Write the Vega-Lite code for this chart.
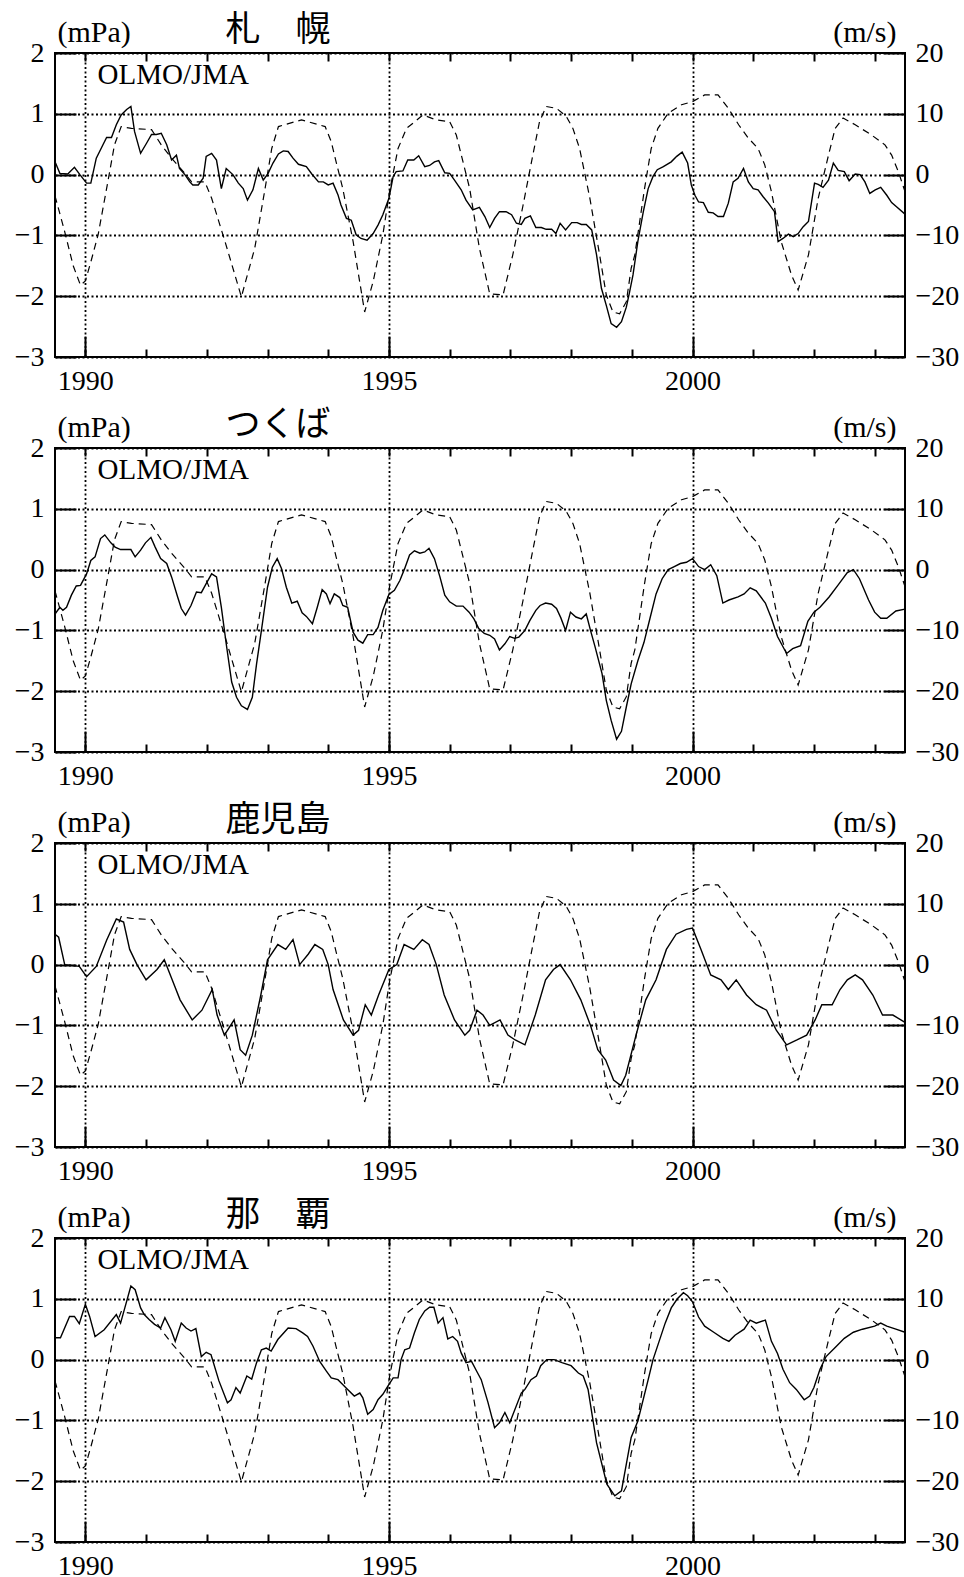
{
"$schema": "https://vega.github.io/schema/vega-lite/v6.json",
"background": "white",
"padding": {"left": 13, "top": 11, "right": 5, "bottom": 5},
"spacing": 91,
"bounds": "flush",
"datasets": {
"qbo": [
{"t":1989.5,"u":-3.5},{"t":1989.65,"u":-9},{"t":1989.8,"u":-15},{"t":1989.92,"u":-18.2},{"t":1990.0,"u":-17.5},{"t":1990.1,"u":-14},{"t":1990.21,"u":-9.9},{"t":1990.37,"u":-1.2},{"t":1990.48,"u":4.9},{"t":1990.59,"u":7.9},{"t":1990.76,"u":7.6},{"t":1991.09,"u":7.4},{"t":1991.25,"u":4.9},{"t":1991.42,"u":2.7},{"t":1991.64,"u":0.2},{"t":1991.75,"u":-1.2},{"t":1991.97,"u":-1.2},{"t":1992.08,"u":-3.9},{"t":1992.3,"u":-11},{"t":1992.57,"u":-20.1},{"t":1992.79,"u":-12.1},{"t":1992.96,"u":-2.3},{"t":1993.07,"u":4.3},{"t":1993.18,"u":7.9},{"t":1993.56,"u":9.0},{"t":1993.95,"u":7.9},{"t":1994.05,"u":5.4},{"t":1994.13,"u":2.1},{"t":1994.24,"u":-2.3},{"t":1994.41,"u":-11},{"t":1994.6,"u":-22.6},{"t":1994.74,"u":-17.6},{"t":1994.9,"u":-9.9},{"t":1995.01,"u":-2.8},{"t":1995.15,"u":4.3},{"t":1995.29,"u":7.6},{"t":1995.56,"u":9.8},{"t":1995.78,"u":9.0},{"t":1996.0,"u":8.7},{"t":1996.11,"u":6.5},{"t":1996.33,"u":-2.3},{"t":1996.49,"u":-12.1},{"t":1996.66,"u":-19.6},{"t":1996.88,"u":-19.8},{"t":1997.04,"u":-13.2},{"t":1997.21,"u":-5.0},{"t":1997.37,"u":3.2},{"t":1997.48,"u":8.7},{"t":1997.59,"u":11.2},{"t":1997.76,"u":10.9},{"t":1997.92,"u":9.6},{"t":1998.03,"u":7.6},{"t":1998.14,"u":4.3},{"t":1998.31,"u":-3.9},{"t":1998.47,"u":-13.2},{"t":1998.58,"u":-19.8},{"t":1998.69,"u":-22.6},{"t":1998.8,"u":-22.9},{"t":1998.91,"u":-20.9},{"t":1998.99,"u":-15.4},{"t":1999.05,"u":-13.2},{"t":1999.21,"u":-2.3},{"t":1999.32,"u":4.3},{"t":1999.43,"u":7.6},{"t":1999.6,"u":10.1},{"t":1999.82,"u":11.5},{"t":2000.0,"u":12.0},{"t":2000.2,"u":13.1},{"t":2000.42,"u":13.1},{"t":2000.59,"u":10.9},{"t":2000.76,"u":8.2},{"t":2000.92,"u":6.0},{"t":2001.08,"u":4.3},{"t":2001.19,"u":1.6},{"t":2001.3,"u":-2.8},{"t":2001.46,"u":-11},{"t":2001.63,"u":-16.5},{"t":2001.74,"u":-19.0},{"t":2001.91,"u":-13.2},{"t":2002.07,"u":-3.9},{"t":2002.24,"u":3.2},{"t":2002.35,"u":7.6},{"t":2002.48,"u":9.3},{"t":2002.68,"u":8.2},{"t":2002.95,"u":6.5},{"t":2003.17,"u":4.9},{"t":2003.28,"u":3.2},{"t":2003.39,"u":0.5},{"t":2003.5,"u":-2.8}
],
"sapporo": [
{"t":1989.5,"v":0.21},{"t":1989.58,"v":0.02},{"t":1989.71,"v":0.01},{"t":1989.82,"v":0.12},{"t":1989.91,"v":0.0},{"t":1990.02,"v":-0.14},{"t":1990.09,"v":-0.14},{"t":1990.18,"v":0.27},{"t":1990.29,"v":0.49},{"t":1990.35,"v":0.61},{"t":1990.43,"v":0.61},{"t":1990.51,"v":0.82},{"t":1990.59,"v":0.98},{"t":1990.68,"v":1.07},{"t":1990.75,"v":1.12},{"t":1990.81,"v":0.71},{"t":1990.91,"v":0.35},{"t":1991.01,"v":0.52},{"t":1991.09,"v":0.66},{"t":1991.17,"v":0.66},{"t":1991.25,"v":0.68},{"t":1991.34,"v":0.49},{"t":1991.42,"v":0.24},{"t":1991.5,"v":0.32},{"t":1991.55,"v":0.1},{"t":1991.64,"v":0.0},{"t":1991.72,"v":-0.12},{"t":1991.77,"v":-0.17},{"t":1991.86,"v":-0.17},{"t":1991.94,"v":-0.06},{"t":1991.99,"v":0.3},{"t":1992.08,"v":0.35},{"t":1992.16,"v":0.24},{"t":1992.24,"v":-0.23},{"t":1992.32,"v":0.1},{"t":1992.43,"v":0.0},{"t":1992.52,"v":-0.14},{"t":1992.6,"v":-0.23},{"t":1992.67,"v":-0.42},{"t":1992.76,"v":-0.25},{"t":1992.85,"v":0.1},{"t":1992.93,"v":-0.09},{"t":1993.01,"v":0.02},{"t":1993.09,"v":0.19},{"t":1993.18,"v":0.34},{"t":1993.26,"v":0.39},{"t":1993.34,"v":0.38},{"t":1993.42,"v":0.27},{"t":1993.51,"v":0.17},{"t":1993.64,"v":0.13},{"t":1993.73,"v":0.01},{"t":1993.84,"v":-0.12},{"t":1993.92,"v":-0.12},{"t":1994.0,"v":-0.17},{"t":1994.08,"v":-0.14},{"t":1994.16,"v":-0.33},{"t":1994.21,"v":-0.5},{"t":1994.3,"v":-0.72},{"t":1994.38,"v":-0.75},{"t":1994.46,"v":-0.99},{"t":1994.54,"v":-1.05},{"t":1994.64,"v":-1.08},{"t":1994.74,"v":-0.97},{"t":1994.82,"v":-0.83},{"t":1994.9,"v":-0.66},{"t":1995.0,"v":-0.39},{"t":1995.07,"v":-0.03},{"t":1995.12,"v":0.05},{"t":1995.23,"v":0.06},{"t":1995.31,"v":0.24},{"t":1995.41,"v":0.24},{"t":1995.49,"v":0.31},{"t":1995.59,"v":0.13},{"t":1995.67,"v":0.15},{"t":1995.75,"v":0.21},{"t":1995.82,"v":0.23},{"t":1995.92,"v":0.03},{"t":1996.0,"v":0.02},{"t":1996.08,"v":-0.09},{"t":1996.19,"v":-0.25},{"t":1996.27,"v":-0.42},{"t":1996.38,"v":-0.58},{"t":1996.49,"v":-0.54},{"t":1996.58,"v":-0.69},{"t":1996.66,"v":-0.87},{"t":1996.74,"v":-0.72},{"t":1996.82,"v":-0.61},{"t":1996.93,"v":-0.61},{"t":1997.02,"v":-0.66},{"t":1997.1,"v":-0.8},{"t":1997.18,"v":-0.82},{"t":1997.24,"v":-0.72},{"t":1997.33,"v":-0.68},{"t":1997.42,"v":-0.87},{"t":1997.51,"v":-0.87},{"t":1997.59,"v":-0.9},{"t":1997.68,"v":-0.9},{"t":1997.75,"v":-0.97},{"t":1997.82,"v":-0.8},{"t":1997.91,"v":-0.91},{"t":1998.01,"v":-0.79},{"t":1998.1,"v":-0.79},{"t":1998.17,"v":-0.82},{"t":1998.25,"v":-0.82},{"t":1998.34,"v":-0.91},{"t":1998.42,"v":-1.32},{"t":1998.5,"v":-1.87},{"t":1998.58,"v":-2.15},{"t":1998.66,"v":-2.45},{"t":1998.75,"v":-2.51},{"t":1998.83,"v":-2.42},{"t":1998.91,"v":-2.18},{"t":1998.96,"v":-1.95},{"t":1999.02,"v":-1.65},{"t":1999.1,"v":-1.1},{"t":1999.19,"v":-0.61},{"t":1999.27,"v":-0.23},{"t":1999.35,"v":-0.03},{"t":1999.42,"v":0.08},{"t":1999.52,"v":0.13},{"t":1999.65,"v":0.21},{"t":1999.74,"v":0.3},{"t":1999.83,"v":0.37},{"t":1999.92,"v":0.19},{"t":1999.98,"v":-0.17},{"t":2000.04,"v":-0.34},{"t":2000.1,"v":-0.45},{"t":2000.18,"v":-0.46},{"t":2000.26,"v":-0.62},{"t":2000.34,"v":-0.63},{"t":2000.42,"v":-0.69},{"t":2000.51,"v":-0.69},{"t":2000.59,"v":-0.47},{"t":2000.67,"v":-0.12},{"t":2000.75,"v":-0.06},{"t":2000.84,"v":0.1},{"t":2000.92,"v":-0.12},{"t":2001.0,"v":-0.23},{"t":2001.08,"v":-0.25},{"t":2001.16,"v":-0.36},{"t":2001.25,"v":-0.47},{"t":2001.35,"v":-0.61},{"t":2001.41,"v":-1.1},{"t":2001.49,"v":-1.05},{"t":2001.58,"v":-0.98},{"t":2001.66,"v":-1.02},{"t":2001.74,"v":-0.97},{"t":2001.82,"v":-0.86},{"t":2001.91,"v":-0.77},{"t":2002.01,"v":-0.14},{"t":2002.07,"v":-0.16},{"t":2002.15,"v":-0.21},{"t":2002.24,"v":-0.09},{"t":2002.32,"v":0.19},{"t":2002.4,"v":0.07},{"t":2002.5,"v":0.05},{"t":2002.58,"v":-0.1},{"t":2002.68,"v":0.01},{"t":2002.76,"v":0.0},{"t":2002.84,"v":-0.12},{"t":2002.92,"v":-0.31},{"t":2003.01,"v":-0.25},{"t":2003.1,"v":-0.21},{"t":2003.2,"v":-0.34},{"t":2003.28,"v":-0.46},{"t":2003.36,"v":-0.53},{"t":2003.5,"v":-0.65}
],
"tsukuba": [
{"t":1989.5,"v":-0.73},{"t":1989.58,"v":-0.62},{"t":1989.63,"v":-0.67},{"t":1989.69,"v":-0.62},{"t":1989.77,"v":-0.42},{"t":1989.85,"v":-0.27},{"t":1989.92,"v":-0.26},{"t":1990.02,"v":-0.07},{"t":1990.09,"v":0.15},{"t":1990.16,"v":0.21},{"t":1990.25,"v":0.51},{"t":1990.32,"v":0.57},{"t":1990.42,"v":0.44},{"t":1990.49,"v":0.37},{"t":1990.58,"v":0.33},{"t":1990.75,"v":0.33},{"t":1990.82,"v":0.21},{"t":1990.91,"v":0.32},{"t":1990.99,"v":0.44},{"t":1991.08,"v":0.53},{"t":1991.15,"v":0.37},{"t":1991.24,"v":0.18},{"t":1991.34,"v":0.1},{"t":1991.42,"v":-0.12},{"t":1991.52,"v":-0.45},{"t":1991.58,"v":-0.64},{"t":1991.65,"v":-0.75},{"t":1991.74,"v":-0.59},{"t":1991.83,"v":-0.37},{"t":1991.91,"v":-0.38},{"t":1991.99,"v":-0.23},{"t":1992.08,"v":-0.07},{"t":1992.16,"v":-0.12},{"t":1992.24,"v":-0.62},{"t":1992.32,"v":-1.22},{"t":1992.41,"v":-1.85},{"t":1992.49,"v":-2.1},{"t":1992.57,"v":-2.24},{"t":1992.67,"v":-2.3},{"t":1992.75,"v":-2.1},{"t":1992.82,"v":-1.55},{"t":1992.9,"v":-1.0},{"t":1993.0,"v":-0.29},{"t":1993.08,"v":0.04},{"t":1993.16,"v":0.18},{"t":1993.23,"v":0.02},{"t":1993.31,"v":-0.29},{"t":1993.4,"v":-0.55},{"t":1993.49,"v":-0.52},{"t":1993.57,"v":-0.71},{"t":1993.64,"v":-0.77},{"t":1993.74,"v":-0.89},{"t":1993.82,"v":-0.62},{"t":1993.9,"v":-0.33},{"t":1993.97,"v":-0.4},{"t":1994.03,"v":-0.56},{"t":1994.1,"v":-0.4},{"t":1994.19,"v":-0.46},{"t":1994.24,"v":-0.59},{"t":1994.32,"v":-0.62},{"t":1994.41,"v":-1.03},{"t":1994.49,"v":-1.16},{"t":1994.57,"v":-1.21},{"t":1994.65,"v":-1.07},{"t":1994.74,"v":-1.07},{"t":1994.82,"v":-0.95},{"t":1994.9,"v":-0.67},{"t":1995.0,"v":-0.41},{"t":1995.09,"v":-0.34},{"t":1995.18,"v":-0.18},{"t":1995.26,"v":0.02},{"t":1995.34,"v":0.24},{"t":1995.42,"v":0.31},{"t":1995.51,"v":0.27},{"t":1995.59,"v":0.29},{"t":1995.66,"v":0.35},{"t":1995.75,"v":0.18},{"t":1995.84,"v":-0.12},{"t":1995.92,"v":-0.42},{"t":1996.0,"v":-0.53},{"t":1996.11,"v":-0.6},{"t":1996.22,"v":-0.6},{"t":1996.32,"v":-0.7},{"t":1996.4,"v":-0.81},{"t":1996.48,"v":-0.97},{"t":1996.57,"v":-1.05},{"t":1996.66,"v":-1.08},{"t":1996.74,"v":-1.14},{"t":1996.82,"v":-1.32},{"t":1996.91,"v":-1.22},{"t":1996.99,"v":-1.1},{"t":1997.07,"v":-1.13},{"t":1997.14,"v":-1.11},{"t":1997.24,"v":-1.0},{"t":1997.32,"v":-0.84},{"t":1997.42,"v":-0.67},{"t":1997.49,"v":-0.59},{"t":1997.58,"v":-0.55},{"t":1997.68,"v":-0.57},{"t":1997.76,"v":-0.64},{"t":1997.83,"v":-0.79},{"t":1997.91,"v":-1.0},{"t":1997.99,"v":-0.7},{"t":1998.08,"v":-0.78},{"t":1998.17,"v":-0.81},{"t":1998.25,"v":-0.73},{"t":1998.32,"v":-1.0},{"t":1998.39,"v":-1.25},{"t":1998.45,"v":-1.48},{"t":1998.51,"v":-1.71},{"t":1998.58,"v":-2.15},{"t":1998.66,"v":-2.48},{"t":1998.75,"v":-2.79},{"t":1998.83,"v":-2.66},{"t":1998.91,"v":-2.26},{"t":1998.99,"v":-1.88},{"t":1999.1,"v":-1.5},{"t":1999.2,"v":-1.2},{"t":1999.3,"v":-0.8},{"t":1999.4,"v":-0.4},{"t":1999.5,"v":-0.15},{"t":1999.6,"v":0.0},{"t":1999.7,"v":0.05},{"t":1999.8,"v":0.1},{"t":1999.9,"v":0.12},{"t":2000.0,"v":0.18},{"t":2000.1,"v":0.05},{"t":2000.2,"v":0.0},{"t":2000.3,"v":0.08},{"t":2000.4,"v":-0.1},{"t":2000.5,"v":-0.55},{"t":2000.6,"v":-0.5},{"t":2000.75,"v":-0.45},{"t":2000.85,"v":-0.4},{"t":2000.95,"v":-0.3},{"t":2001.05,"v":-0.35},{"t":2001.2,"v":-0.55},{"t":2001.3,"v":-0.8},{"t":2001.4,"v":-1.1},{"t":2001.55,"v":-1.38},{"t":2001.65,"v":-1.3},{"t":2001.78,"v":-1.25},{"t":2001.9,"v":-0.85},{"t":2002.0,"v":-0.7},{"t":2002.1,"v":-0.62},{"t":2002.25,"v":-0.45},{"t":2002.4,"v":-0.25},{"t":2002.55,"v":-0.05},{"t":2002.65,"v":0.0},{"t":2002.75,"v":-0.15},{"t":2002.9,"v":-0.5},{"t":2003.0,"v":-0.7},{"t":2003.1,"v":-0.8},{"t":2003.2,"v":-0.8},{"t":2003.35,"v":-0.68},{"t":2003.5,"v":-0.65}
],
"kagoshima": [
{"t":1989.5,"v":0.5},{"t":1989.56,"v":0.45},{"t":1989.66,"v":0.0},{"t":1989.9,"v":-0.03},{"t":1990.02,"v":-0.2},{"t":1990.18,"v":-0.03},{"t":1990.35,"v":0.4},{"t":1990.51,"v":0.75},{"t":1990.63,"v":0.7},{"t":1990.73,"v":0.25},{"t":1990.85,"v":0.0},{"t":1991.0,"v":-0.25},{"t":1991.18,"v":-0.08},{"t":1991.3,"v":0.08},{"t":1991.43,"v":-0.25},{"t":1991.56,"v":-0.58},{"t":1991.76,"v":-0.91},{"t":1991.92,"v":-0.75},{"t":1992.09,"v":-0.41},{"t":1992.17,"v":-0.83},{"t":1992.29,"v":-1.16},{"t":1992.45,"v":-0.91},{"t":1992.55,"v":-1.4},{"t":1992.64,"v":-1.49},{"t":1992.75,"v":-1.16},{"t":1992.89,"v":-0.5},{"t":1993.0,"v":0.08},{"t":1993.17,"v":0.33},{"t":1993.3,"v":0.25},{"t":1993.42,"v":0.41},{"t":1993.53,"v":0.0},{"t":1993.67,"v":0.17},{"t":1993.78,"v":0.33},{"t":1993.91,"v":0.25},{"t":1994.0,"v":0.0},{"t":1994.08,"v":-0.41},{"t":1994.25,"v":-0.91},{"t":1994.41,"v":-1.16},{"t":1994.5,"v":-1.08},{"t":1994.61,"v":-0.66},{"t":1994.71,"v":-0.83},{"t":1994.83,"v":-0.5},{"t":1995.0,"v":-0.08},{"t":1995.13,"v":0.0},{"t":1995.25,"v":0.33},{"t":1995.41,"v":0.25},{"t":1995.55,"v":0.41},{"t":1995.66,"v":0.33},{"t":1995.78,"v":0.0},{"t":1995.91,"v":-0.5},{"t":1996.08,"v":-0.91},{"t":1996.25,"v":-1.16},{"t":1996.33,"v":-1.08},{"t":1996.45,"v":-0.75},{"t":1996.55,"v":-0.83},{"t":1996.66,"v":-1.0},{"t":1996.83,"v":-0.91},{"t":1996.96,"v":-1.16},{"t":1997.08,"v":-1.24},{"t":1997.24,"v":-1.32},{"t":1997.41,"v":-0.83},{"t":1997.58,"v":-0.25},{"t":1997.71,"v":-0.08},{"t":1997.82,"v":0.0},{"t":1997.99,"v":-0.25},{"t":1998.16,"v":-0.58},{"t":1998.32,"v":-1.0},{"t":1998.44,"v":-1.4},{"t":1998.57,"v":-1.57},{"t":1998.7,"v":-1.9},{"t":1998.82,"v":-1.99},{"t":1998.9,"v":-1.82},{"t":1999.07,"v":-1.16},{"t":1999.23,"v":-0.58},{"t":1999.4,"v":-0.25},{"t":1999.57,"v":0.25},{"t":1999.73,"v":0.5},{"t":1999.9,"v":0.58},{"t":2000.0,"v":0.6},{"t":2000.14,"v":0.25},{"t":2000.3,"v":-0.17},{"t":2000.47,"v":-0.25},{"t":2000.59,"v":-0.41},{"t":2000.72,"v":-0.25},{"t":2000.89,"v":-0.5},{"t":2001.05,"v":-0.66},{"t":2001.22,"v":-0.75},{"t":2001.38,"v":-1.08},{"t":2001.55,"v":-1.32},{"t":2001.72,"v":-1.24},{"t":2001.88,"v":-1.16},{"t":2002.02,"v":-0.91},{"t":2002.13,"v":-0.66},{"t":2002.3,"v":-0.66},{"t":2002.43,"v":-0.41},{"t":2002.55,"v":-0.25},{"t":2002.68,"v":-0.17},{"t":2002.8,"v":-0.25},{"t":2002.97,"v":-0.5},{"t":2003.13,"v":-0.83},{"t":2003.3,"v":-0.83},{"t":2003.5,"v":-0.95}
],
"naha": [
{"t":1989.5,"v":0.36},{"t":1989.59,"v":0.36},{"t":1989.74,"v":0.71},{"t":1989.82,"v":0.71},{"t":1989.9,"v":0.59},{"t":1990.0,"v":0.91},{"t":1990.07,"v":0.71},{"t":1990.16,"v":0.38},{"t":1990.31,"v":0.49},{"t":1990.51,"v":0.74},{"t":1990.58,"v":0.6},{"t":1990.65,"v":0.85},{"t":1990.75,"v":1.21},{"t":1990.82,"v":1.15},{"t":1990.91,"v":0.85},{"t":1990.97,"v":0.74},{"t":1991.05,"v":0.66},{"t":1991.14,"v":0.58},{"t":1991.24,"v":0.52},{"t":1991.31,"v":0.69},{"t":1991.41,"v":0.49},{"t":1991.48,"v":0.3},{"t":1991.58,"v":0.6},{"t":1991.66,"v":0.52},{"t":1991.74,"v":0.47},{"t":1991.82,"v":0.51},{"t":1991.91,"v":0.05},{"t":1991.99,"v":0.12},{"t":1992.07,"v":0.08},{"t":1992.2,"v":-0.35},{"t":1992.34,"v":-0.71},{"t":1992.4,"v":-0.66},{"t":1992.48,"v":-0.46},{"t":1992.55,"v":-0.55},{"t":1992.66,"v":-0.27},{"t":1992.74,"v":-0.32},{"t":1992.82,"v":-0.05},{"t":1992.9,"v":0.16},{"t":1992.98,"v":0.19},{"t":1993.06,"v":0.14},{"t":1993.17,"v":0.33},{"t":1993.34,"v":0.52},{"t":1993.47,"v":0.51},{"t":1993.58,"v":0.44},{"t":1993.66,"v":0.38},{"t":1993.75,"v":0.22},{"t":1993.86,"v":-0.03},{"t":1993.97,"v":-0.19},{"t":1994.05,"v":-0.3},{"t":1994.16,"v":-0.33},{"t":1994.21,"v":-0.38},{"t":1994.32,"v":-0.49},{"t":1994.43,"v":-0.6},{"t":1994.52,"v":-0.55},{"t":1994.57,"v":-0.63},{"t":1994.65,"v":-0.9},{"t":1994.74,"v":-0.82},{"t":1994.82,"v":-0.66},{"t":1994.9,"v":-0.57},{"t":1994.98,"v":-0.44},{"t":1995.07,"v":-0.3},{"t":1995.15,"v":-0.3},{"t":1995.2,"v":0.0},{"t":1995.26,"v":0.16},{"t":1995.34,"v":0.19},{"t":1995.42,"v":0.44},{"t":1995.5,"v":0.66},{"t":1995.59,"v":0.8},{"t":1995.67,"v":0.86},{"t":1995.74,"v":0.86},{"t":1995.81,"v":0.6},{"t":1995.89,"v":0.69},{"t":1995.97,"v":0.34},{"t":1996.05,"v":0.38},{"t":1996.13,"v":0.3},{"t":1996.19,"v":0.11},{"t":1996.27,"v":-0.05},{"t":1996.36,"v":-0.03},{"t":1996.45,"v":-0.2},{"t":1996.52,"v":-0.33},{"t":1996.63,"v":-0.7},{"t":1996.74,"v":-1.12},{"t":1996.82,"v":-1.04},{"t":1996.91,"v":-0.87},{"t":1996.99,"v":-1.04},{"t":1997.18,"v":-0.55},{"t":1997.24,"v":-0.49},{"t":1997.34,"v":-0.33},{"t":1997.43,"v":-0.27},{"t":1997.5,"v":-0.1},{"t":1997.6,"v":0.0},{"t":1997.72,"v":0.0},{"t":1997.85,"v":-0.05},{"t":1998.0,"v":-0.1},{"t":1998.12,"v":-0.22},{"t":1998.2,"v":-0.27},{"t":1998.28,"v":-0.49},{"t":1998.42,"v":-1.37},{"t":1998.59,"v":-2.05},{"t":1998.72,"v":-2.24},{"t":1998.83,"v":-2.16},{"t":1998.99,"v":-1.28},{"t":1999.1,"v":-1.01},{"t":1999.27,"v":-0.33},{"t":1999.35,"v":0.0},{"t":1999.45,"v":0.3},{"t":1999.55,"v":0.6},{"t":1999.65,"v":0.85},{"t":1999.75,"v":1.0},{"t":1999.85,"v":1.1},{"t":1999.92,"v":1.05},{"t":2000.0,"v":0.95},{"t":2000.1,"v":0.7},{"t":2000.2,"v":0.55},{"t":2000.35,"v":0.45},{"t":2000.5,"v":0.35},{"t":2000.6,"v":0.3},{"t":2000.7,"v":0.4},{"t":2000.85,"v":0.5},{"t":2000.95,"v":0.65},{"t":2001.05,"v":0.6},{"t":2001.2,"v":0.65},{"t":2001.3,"v":0.3},{"t":2001.4,"v":0.1},{"t":2001.49,"v":-0.16},{"t":2001.6,"v":-0.38},{"t":2001.71,"v":-0.49},{"t":2001.84,"v":-0.66},{"t":2001.93,"v":-0.6},{"t":2002.0,"v":-0.46},{"t":2002.1,"v":-0.16},{"t":2002.2,"v":0.05},{"t":2002.35,"v":0.2},{"t":2002.5,"v":0.35},{"t":2002.65,"v":0.45},{"t":2002.8,"v":0.5},{"t":2003.0,"v":0.55},{"t":2003.1,"v":0.6},{"t":2003.2,"v":0.55},{"t":2003.35,"v":0.5},{"t":2003.5,"v":0.45}
]
},
"vconcat": [
{"width": 850, "height": 304,
 "layer": [
  {"data": {"name": "sapporo"}, "mark": {"type": "line", "color": "black", "strokeWidth": 1.4},
   "encoding": {
    "x": {"field": "t", "type": "quantitative", "scale": {"domain": [1989.5, 2003.5], "nice": false, "zero": false},
      "axis": {"orient": "bottom", "values": [1990, 1995, 2000], "format": "d", "tickSize": -21, "labelPadding": 31, "labelBaseline": "top", "grid": true, "title": null}},
    "y": {"field": "v", "type": "quantitative", "scale": {"domain": [-3, 2], "nice": false, "zero": false},
      "axis": {"orient": "left", "values": [-3, -2, -1, 0, 1, 2], "format": "d", "tickSize": -21, "labelPadding": 32, "grid": true, "title": "(mPa)", "titleAngle": 0, "titleX": 2, "titleY": -12, "titleAlign": "left", "titleBaseline": "alphabetic"}}}},
  {"data": {"name": "qbo"}, "mark": {"type": "line", "color": "black", "strokeWidth": 1.2, "strokeDash": [7, 5]},
   "encoding": {
    "x": {"field": "t", "type": "quantitative", "scale": {"domain": [1989.5, 2003.5], "nice": false, "zero": false},
      "axis": {"orient": "bottom", "values": [1990, 1991, 1992, 1993, 1994, 1995, 1996, 1997, 1998, 1999, 2000, 2001, 2002, 2003], "tickSize": -8, "labels": false, "grid": false, "title": null}},
    "y": {"field": "u", "type": "quantitative", "scale": {"domain": [-30, 20], "nice": false, "zero": false},
      "axis": {"orient": "right", "values": [-30, -20, -10, 0, 10, 20], "format": "d", "tickSize": -21, "labelPadding": 31, "grid": false, "title": "(m/s)", "titleAngle": 0, "titleX": -9, "titleY": -12, "titleAlign": "right", "titleBaseline": "alphabetic"}}}},
  {"data": {"values": [{"label": "OLMO/JMA"}]}, "mark": {"type": "text", "align": "left", "baseline": "alphabetic", "font": "Liberation Serif", "fontSize": 29, "color": "black"},
   "encoding": {
    "text": {"field": "label"},
    "x": {"datum": 1990.2, "type": "quantitative", "scale": {"domain": [1989.5, 2003.5], "nice": false, "zero": false},
      "axis": {"orient": "top", "values": [1990, 1991, 1992, 1993, 1994, 1995, 1996, 1997, 1998, 1999, 2000, 2001, 2002, 2003], "tickSize": -8, "labels": false, "grid": false, "title": "札　幌", "titleFont": "Noto Sans CJK JP", "titleFontSize": 35, "titleAngle": 0, "titleX": 170, "titleY": -13, "titleAlign": "left", "titleBaseline": "alphabetic"}},
    "y": {"datum": 1.485, "type": "quantitative", "scale": {"domain": [-3, 2], "nice": false, "zero": false}, "axis": null}}}
 ],
 "resolve": {"scale": {"y": "independent"}, "axis": {"x": "independent", "y": "independent"}}
},
{"width": 850, "height": 304,
 "layer": [
  {"data": {"name": "tsukuba"}, "mark": {"type": "line", "color": "black", "strokeWidth": 1.4},
   "encoding": {
    "x": {"field": "t", "type": "quantitative", "scale": {"domain": [1989.5, 2003.5], "nice": false, "zero": false},
      "axis": {"orient": "bottom", "values": [1990, 1995, 2000], "format": "d", "tickSize": -21, "labelPadding": 31, "labelBaseline": "top", "grid": true, "title": null}},
    "y": {"field": "v", "type": "quantitative", "scale": {"domain": [-3, 2], "nice": false, "zero": false},
      "axis": {"orient": "left", "values": [-3, -2, -1, 0, 1, 2], "format": "d", "tickSize": -21, "labelPadding": 32, "grid": true, "title": "(mPa)", "titleAngle": 0, "titleX": 2, "titleY": -12, "titleAlign": "left", "titleBaseline": "alphabetic"}}}},
  {"data": {"name": "qbo"}, "mark": {"type": "line", "color": "black", "strokeWidth": 1.2, "strokeDash": [7, 5]},
   "encoding": {
    "x": {"field": "t", "type": "quantitative", "scale": {"domain": [1989.5, 2003.5], "nice": false, "zero": false},
      "axis": {"orient": "bottom", "values": [1990, 1991, 1992, 1993, 1994, 1995, 1996, 1997, 1998, 1999, 2000, 2001, 2002, 2003], "tickSize": -8, "labels": false, "grid": false, "title": null}},
    "y": {"field": "u", "type": "quantitative", "scale": {"domain": [-30, 20], "nice": false, "zero": false},
      "axis": {"orient": "right", "values": [-30, -20, -10, 0, 10, 20], "format": "d", "tickSize": -21, "labelPadding": 31, "grid": false, "title": "(m/s)", "titleAngle": 0, "titleX": -9, "titleY": -12, "titleAlign": "right", "titleBaseline": "alphabetic"}}}},
  {"data": {"values": [{"label": "OLMO/JMA"}]}, "mark": {"type": "text", "align": "left", "baseline": "alphabetic", "font": "Liberation Serif", "fontSize": 29, "color": "black"},
   "encoding": {
    "text": {"field": "label"},
    "x": {"datum": 1990.2, "type": "quantitative", "scale": {"domain": [1989.5, 2003.5], "nice": false, "zero": false},
      "axis": {"orient": "top", "values": [1990, 1991, 1992, 1993, 1994, 1995, 1996, 1997, 1998, 1999, 2000, 2001, 2002, 2003], "tickSize": -8, "labels": false, "grid": false, "title": "つくば", "titleFont": "Noto Sans CJK JP", "titleFontSize": 35, "titleAngle": 0, "titleX": 170, "titleY": -13, "titleAlign": "left", "titleBaseline": "alphabetic"}},
    "y": {"datum": 1.485, "type": "quantitative", "scale": {"domain": [-3, 2], "nice": false, "zero": false}, "axis": null}}}
 ],
 "resolve": {"scale": {"y": "independent"}, "axis": {"x": "independent", "y": "independent"}}
},
{"width": 850, "height": 304,
 "layer": [
  {"data": {"name": "kagoshima"}, "mark": {"type": "line", "color": "black", "strokeWidth": 1.4},
   "encoding": {
    "x": {"field": "t", "type": "quantitative", "scale": {"domain": [1989.5, 2003.5], "nice": false, "zero": false},
      "axis": {"orient": "bottom", "values": [1990, 1995, 2000], "format": "d", "tickSize": -21, "labelPadding": 31, "labelBaseline": "top", "grid": true, "title": null}},
    "y": {"field": "v", "type": "quantitative", "scale": {"domain": [-3, 2], "nice": false, "zero": false},
      "axis": {"orient": "left", "values": [-3, -2, -1, 0, 1, 2], "format": "d", "tickSize": -21, "labelPadding": 32, "grid": true, "title": "(mPa)", "titleAngle": 0, "titleX": 2, "titleY": -12, "titleAlign": "left", "titleBaseline": "alphabetic"}}}},
  {"data": {"name": "qbo"}, "mark": {"type": "line", "color": "black", "strokeWidth": 1.2, "strokeDash": [7, 5]},
   "encoding": {
    "x": {"field": "t", "type": "quantitative", "scale": {"domain": [1989.5, 2003.5], "nice": false, "zero": false},
      "axis": {"orient": "bottom", "values": [1990, 1991, 1992, 1993, 1994, 1995, 1996, 1997, 1998, 1999, 2000, 2001, 2002, 2003], "tickSize": -8, "labels": false, "grid": false, "title": null}},
    "y": {"field": "u", "type": "quantitative", "scale": {"domain": [-30, 20], "nice": false, "zero": false},
      "axis": {"orient": "right", "values": [-30, -20, -10, 0, 10, 20], "format": "d", "tickSize": -21, "labelPadding": 31, "grid": false, "title": "(m/s)", "titleAngle": 0, "titleX": -9, "titleY": -12, "titleAlign": "right", "titleBaseline": "alphabetic"}}}},
  {"data": {"values": [{"label": "OLMO/JMA"}]}, "mark": {"type": "text", "align": "left", "baseline": "alphabetic", "font": "Liberation Serif", "fontSize": 29, "color": "black"},
   "encoding": {
    "text": {"field": "label"},
    "x": {"datum": 1990.2, "type": "quantitative", "scale": {"domain": [1989.5, 2003.5], "nice": false, "zero": false},
      "axis": {"orient": "top", "values": [1990, 1991, 1992, 1993, 1994, 1995, 1996, 1997, 1998, 1999, 2000, 2001, 2002, 2003], "tickSize": -8, "labels": false, "grid": false, "title": "鹿児島", "titleFont": "Noto Sans CJK JP", "titleFontSize": 35, "titleAngle": 0, "titleX": 170, "titleY": -13, "titleAlign": "left", "titleBaseline": "alphabetic"}},
    "y": {"datum": 1.485, "type": "quantitative", "scale": {"domain": [-3, 2], "nice": false, "zero": false}, "axis": null}}}
 ],
 "resolve": {"scale": {"y": "independent"}, "axis": {"x": "independent", "y": "independent"}}
},
{"width": 850, "height": 304,
 "layer": [
  {"data": {"name": "naha"}, "mark": {"type": "line", "color": "black", "strokeWidth": 1.4},
   "encoding": {
    "x": {"field": "t", "type": "quantitative", "scale": {"domain": [1989.5, 2003.5], "nice": false, "zero": false},
      "axis": {"orient": "bottom", "values": [1990, 1995, 2000], "format": "d", "tickSize": -21, "labelPadding": 31, "labelBaseline": "top", "grid": true, "title": null}},
    "y": {"field": "v", "type": "quantitative", "scale": {"domain": [-3, 2], "nice": false, "zero": false},
      "axis": {"orient": "left", "values": [-3, -2, -1, 0, 1, 2], "format": "d", "tickSize": -21, "labelPadding": 32, "grid": true, "title": "(mPa)", "titleAngle": 0, "titleX": 2, "titleY": -12, "titleAlign": "left", "titleBaseline": "alphabetic"}}}},
  {"data": {"name": "qbo"}, "mark": {"type": "line", "color": "black", "strokeWidth": 1.2, "strokeDash": [7, 5]},
   "encoding": {
    "x": {"field": "t", "type": "quantitative", "scale": {"domain": [1989.5, 2003.5], "nice": false, "zero": false},
      "axis": {"orient": "bottom", "values": [1990, 1991, 1992, 1993, 1994, 1995, 1996, 1997, 1998, 1999, 2000, 2001, 2002, 2003], "tickSize": -8, "labels": false, "grid": false, "title": null}},
    "y": {"field": "u", "type": "quantitative", "scale": {"domain": [-30, 20], "nice": false, "zero": false},
      "axis": {"orient": "right", "values": [-30, -20, -10, 0, 10, 20], "format": "d", "tickSize": -21, "labelPadding": 31, "grid": false, "title": "(m/s)", "titleAngle": 0, "titleX": -9, "titleY": -12, "titleAlign": "right", "titleBaseline": "alphabetic"}}}},
  {"data": {"values": [{"label": "OLMO/JMA"}]}, "mark": {"type": "text", "align": "left", "baseline": "alphabetic", "font": "Liberation Serif", "fontSize": 29, "color": "black"},
   "encoding": {
    "text": {"field": "label"},
    "x": {"datum": 1990.2, "type": "quantitative", "scale": {"domain": [1989.5, 2003.5], "nice": false, "zero": false},
      "axis": {"orient": "top", "values": [1990, 1991, 1992, 1993, 1994, 1995, 1996, 1997, 1998, 1999, 2000, 2001, 2002, 2003], "tickSize": -8, "labels": false, "grid": false, "title": "那　覇", "titleFont": "Noto Sans CJK JP", "titleFontSize": 35, "titleAngle": 0, "titleX": 170, "titleY": -13, "titleAlign": "left", "titleBaseline": "alphabetic"}},
    "y": {"datum": 1.485, "type": "quantitative", "scale": {"domain": [-3, 2], "nice": false, "zero": false}, "axis": null}}}
 ],
 "resolve": {"scale": {"y": "independent"}, "axis": {"x": "independent", "y": "independent"}}
}
],
"config": {
 "view": {"stroke": "black", "strokeWidth": 2},
 "axis": {"domain": false, "labelFont": "Liberation Serif", "labelFontSize": 28, "labelColor": "black", "labelFlush": false, "labelOverlap": false,
   "titleFont": "Liberation Serif", "titleFontSize": 30, "titleFontWeight": "normal", "titleColor": "black",
   "tickColor": "black", "tickWidth": 2, "gridColor": "black", "gridDash": [2, 2.5], "gridWidth": 1.8, "gridOpacity": 1}
}
}
